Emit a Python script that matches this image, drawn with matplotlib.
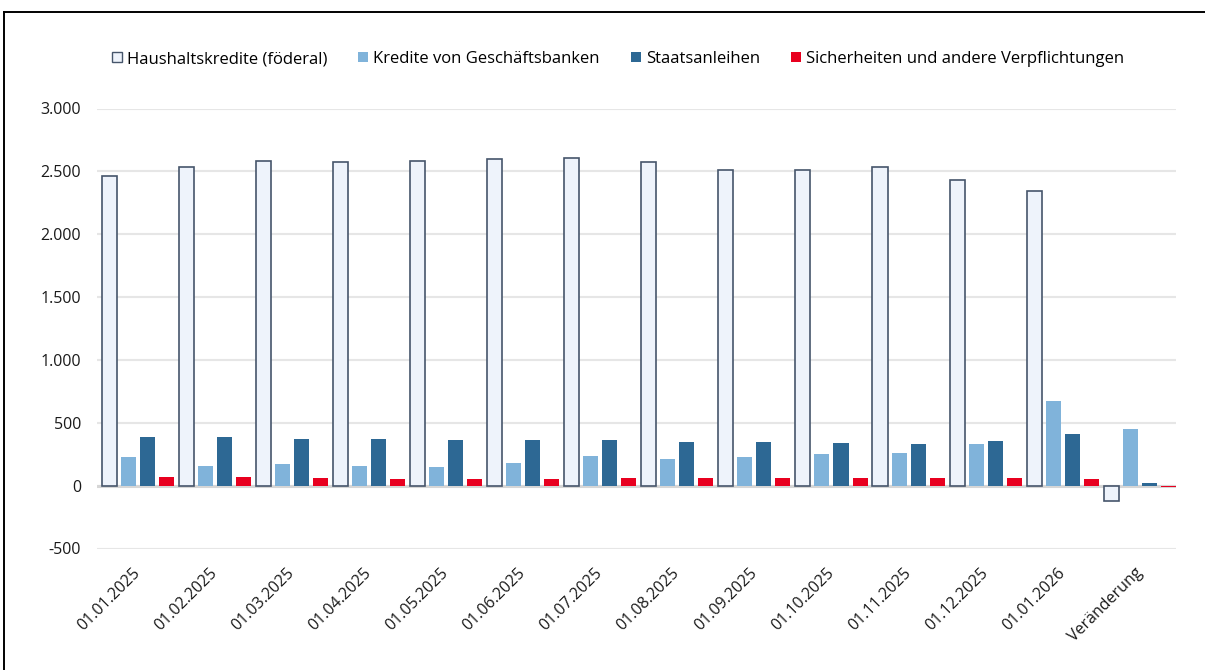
import numpy as np
import matplotlib
matplotlib.use("Agg")
import matplotlib.pyplot as plt
from matplotlib.patches import Patch
from matplotlib.lines import Line2D
from matplotlib.ticker import FuncFormatter

plt.rcParams['font.family'] = ['Open Sans', 'DejaVu Sans']

dates = ["01.01.2025", "01.02.2025", "01.03.2025", "01.04.2025", "01.05.2025",
         "01.06.2025", "01.07.2025", "01.08.2025", "01.09.2025", "01.10.2025",
         "01.11.2025", "01.12.2025", "01.01.2026", "Veränderung"]

series_names = ["Haushaltskredite (föderal)", "Kredite von Geschäftsbanken",
                "Staatsanleihen", "Sicherheiten und andere Verpflichtungen"]

haushalt = [2466, 2532, 2585, 2577, 2585, 2601, 2606, 2571, 2508, 2508, 2532, 2429, 2341, -125]
kredite = [225, 156, 170, 156, 146, 177, 238, 214, 225, 251, 257, 331, 672, 447]
staats = [384, 384, 371, 371, 365, 360, 360, 349, 344, 336, 328, 352, 408, 24]
sicher = [67, 67, 58, 56, 54, 54, 58, 58, 62, 62, 62, 62, 54, -13]

fills = ["#eef3fb", "#80b3da", "#2d6894", "#e8001f"]
edges = ["#46556b", "#80b3da", "#2d6894", "#e8001f"]

fig = plt.figure(figsize=(12.05, 6.7), dpi=100)
ax = fig.add_axes([97/1205, 1 - 548.5/670, 1079/1205, 440/670])

x = np.arange(len(dates))
pitch = 0.247
width = 0.195
all_vals = [haushalt, kredite, staats, sicher]
for k in range(4):
    lw = 1.2 if k == 0 else 0
    ax.bar(x + (k - 1.5) * pitch, all_vals[k], width, color=fills[k],
           edgecolor=edges[k], linewidth=lw, zorder=3)

ax.set_xlim(-0.53, len(dates) - 0.53)
ax.set_ylim(-500, 3000)
ax.set_yticks(np.arange(-500, 3001, 500))
ax.yaxis.set_major_formatter(FuncFormatter(lambda v, p: f"{int(v):,}".replace(",", ".")))
ax.grid(axis="y", color="#e6e6e6", linewidth=1.5, zorder=0)
ax.axhline(0, color="#d6d6d6", linewidth=2.2, zorder=2)
for s in ax.spines.values():
    s.set_visible(False)
ax.tick_params(axis="both", length=0, labelsize=11.5, colors="#1a1a1a")
ax.tick_params(axis="y", pad=11.5)
ax.tick_params(axis="x", pad=16)
ax.set_xticks(x)
ax.set_xticklabels(dates, rotation=45, ha="right", va="center", rotation_mode="anchor")

handles = [Patch(facecolor=fills[k], edgecolor=edges[k], linewidth=1.0 if k == 0 else 0)
           for k in range(4)]
fig.legend(handles, series_names, loc="center", bbox_to_anchor=(618/1205, 1 - 59/670),
           ncol=4, frameon=False, fontsize=12, handlelength=0.6, handleheight=0.6,
           handletextpad=0.3, columnspacing=1.85)

# frame lines (top and left), the rest is cut off
fig.add_artist(Line2D([4/1205, 1.0], [1 - 12/670, 1 - 12/670], transform=fig.transFigure,
                      color="black", linewidth=1.4))
fig.add_artist(Line2D([4/1205, 4/1205], [0, 1 - 12/670], transform=fig.transFigure,
                      color="black", linewidth=1.4))

fig.savefig("out.png", dpi=100)
